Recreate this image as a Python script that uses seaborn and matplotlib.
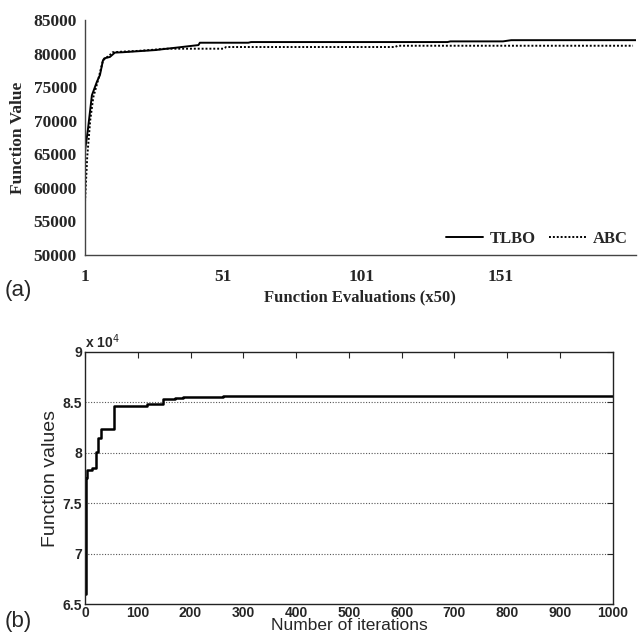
import numpy as np
import pandas as pd
import matplotlib
matplotlib.use("Agg")
import matplotlib.pyplot as plt
import matplotlib.ticker as mticker
import seaborn as sns

# panel (a): convergence, function evaluations (x50)
tlbo_x = [1, 2, 3.5, 5.3, 6.4, 7.5, 8, 10, 11.8, 14.5, 20, 26.5, 30, 34.9, 42, 42.5, 60, 61, 132, 133, 152, 155, 200]
tlbo_y = [65500, 68500, 73800, 75800, 76800, 79000, 79300, 79500, 80150, 80200, 80350, 80530, 80700, 80930, 81270, 81620, 81620, 81720, 81720, 81820, 81820, 82000, 82000]
abc_x = [1, 1.8, 2.9, 4, 5.7, 7.5, 10, 11, 15, 20, 25, 30, 51, 52, 113, 114, 199]
abc_y = [57900, 64600, 70100, 73500, 76000, 79000, 79800, 80200, 80300, 80400, 80550, 80730, 80730, 80980, 80980, 81170, 81170]

# panel (b): best function value per iteration
iters = [0, 1, 3, 13, 21, 25, 30, 55, 117, 147, 170, 186, 240, 262, 1000]
best = [66000, 77500, 78300, 78500, 80100, 81500, 82400, 84600, 84800, 85300, 85450, 85500, 85550, 85600, 85600]

df_a = pd.concat([
    pd.DataFrame({"x": tlbo_x, "y": tlbo_y, "alg": "TLBO"}),
    pd.DataFrame({"x": abc_x, "y": abc_y, "alg": "ABC"}),
])
df_b = pd.DataFrame({"it": iters, "val": best})

sns.set_style("white")
plt.rcParams["font.family"] = ["Liberation Sans", "DejaVu Sans"]

fig = plt.figure(figsize=(6.39, 6.38), dpi=100)
ax1 = fig.add_axes([0.133, 0.6003, 0.862, 0.3683])
ax2 = fig.add_axes([0.133, 0.053, 0.826, 0.3953])

serif = ["Liberation Serif", "DejaVu Serif"]

# --- (a)
sns.lineplot(data=df_a, x="x", y="y", style="alg", color="black", dashes={"TLBO": "", "ABC": (1, 1)},
             linewidth=1.4, ax=ax1, legend=False, estimator=None, sort=False)
ax1.set_xlim(1, 200)
ax1.set_ylim(50000, 85000)
ax1.set_xticks([1, 51, 101, 151])
ax1.set_yticks(np.arange(50000, 85001, 5000))
for s in ["top", "right"]:
    ax1.spines[s].set_visible(False)
for s in ["left", "bottom"]:
    ax1.spines[s].set_color("#444444")
    ax1.spines[s].set_linewidth(1.0)
ax1.tick_params(axis="both", direction="out", length=3, width=0.8, color="#444444", pad=3)
ax1.tick_params(axis="x", pad=7)
for lab in ax1.get_xticklabels() + ax1.get_yticklabels():
    lab.set_fontfamily(serif)
    lab.set_fontweight("bold")
    lab.set_fontsize(12.5)
ax1.set_xlabel("Function Evaluations (x50)", fontfamily=serif, fontweight="bold", fontsize=12, labelpad=3)
ax1.set_ylabel("Function Value", fontfamily=serif, fontweight="bold", fontsize=12.5, labelpad=5)
h1, = ax1.plot([], [], color="black", lw=1.4)
h2, = ax1.plot([], [], color="black", lw=1.4, ls=(0, (1, 1)))
ax1.legend([h1, h2], ["TLBO", "ABC"], loc="lower right", ncol=2, frameon=False,
           prop={"family": serif, "weight": "bold", "size": 12}, handlelength=2.2,
           columnspacing=0.8, handletextpad=0.4, borderaxespad=0.1)

# --- (b)
sns.lineplot(data=df_b, x="it", y="val", color="black", linewidth=1.8, drawstyle="steps-post",
             ax=ax2, estimator=None)
ax2.set_xlim(0, 1000)
ax2.set_ylim(65000, 90000)
ax2.set_xticks(np.arange(0, 1001, 100))
ax2.set_yticks(np.arange(65000, 90001, 5000))
ax2.yaxis.set_major_formatter(mticker.FuncFormatter(lambda v, p: f"{v / 1e4:g}"))
for yv in [70000, 75000, 80000, 85000]:
    ax2.axhline(yv, color="#555555", lw=0.8, ls=(0, (1, 1.5)), zorder=0)
for s in ax2.spines.values():
    s.set_color("#222222")
    s.set_linewidth(1.0)
ax2.tick_params(axis="both", direction="in", length=4, width=0.8, top=True, right=True,
                labelsize=10, pad=2)
ax2.tick_params(axis="x", pad=1)
for lab in ax2.get_xticklabels() + ax2.get_yticklabels():
    lab.set_fontweight("bold")
ax2.set_xlabel("Number of iterations", fontsize=12.5, labelpad=-1)
ax2.set_ylabel("Function values", fontsize=14, labelpad=3)
ax2.text(0.0, 1.005, "x 10$^4$", transform=ax2.transAxes, fontsize=10, fontweight="bold",
         ha="left", va="bottom")

fig.text(0.008, 0.545, "(a)", fontsize=16, ha="left", va="center")
fig.text(0.008, 0.026, "(b)", fontsize=16, ha="left", va="center")

fig.savefig("out.png", dpi=100)
